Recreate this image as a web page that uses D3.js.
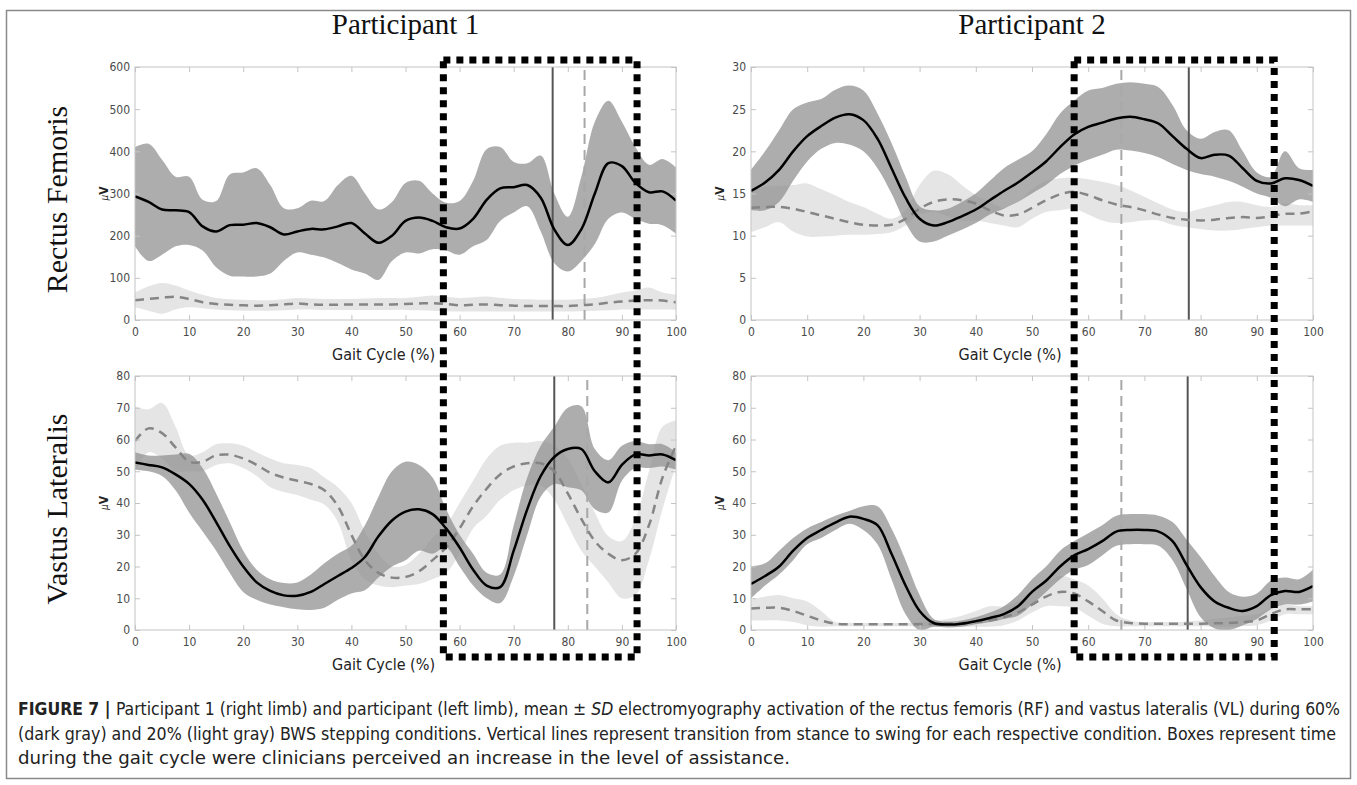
<!DOCTYPE html>
<html>
<head>
<meta charset="utf-8">
<script src="https://cdn.jsdelivr.net/npm/d3@7"></script>
<style>
  body { margin: 0; background: #fff; }
  .tick text { font-family: "Liberation Sans Narrow", "DejaVu Sans Condensed", "Liberation Sans", sans-serif; font-size: 12px; fill: #4a4a4a; }
  .tick line { stroke: #c4c4c4; }
  .serif { font-family: "Liberation Serif", "DejaVu Serif", serif; fill: #111; }
  .narrow { font-family: "Liberation Sans Narrow", "DejaVu Sans Condensed", "Liberation Sans", sans-serif; fill: #222; }
</style>
</head>
<body>
<div id="chart"></div>
<script>
// gait cycle sample points (%)
const gaitPct = [0,2.5,5,7.5,10,12.5,15,17.5,20,22.5,25,27.5,30,32.5,35,37.5,40,42.5,45,47.5,50,52.5,55,57.5,60,62.5,65,67.5,70,72.5,75,77.5,80,82.5,85,87.5,90,92.5,95,97.5,100];

// Rectus femoris, participant 1 (60% BWS = dark, 20% BWS = light)
const rfP1DarkMean  = [293,280,262,260,256,222,210,225,226,230,220,203,210,216,215,222,230,205,183,200,235,243,235,220,217,240,285,312,315,320,290,215,178,215,300,372,365,325,303,305,283];
const rfP1DarkUpper = [410,418,380,340,340,285,282,345,350,360,320,265,265,283,282,320,342,300,262,280,325,330,300,278,282,330,405,410,375,372,390,300,245,340,470,520,470,410,368,382,362];
const rfP1DarkLower = [175,140,155,175,178,165,125,105,103,103,110,140,160,155,148,135,120,110,95,140,160,158,168,165,155,175,190,235,255,270,210,135,115,140,180,240,255,240,228,225,205];
const rfP1LightMean  = [47,50,53,55,50,42,38,36,35,34,35,37,39,37,36,36,37,37,37,37,38,39,40,38,35,36,37,35,34,33,33,33,33,35,37,41,44,46,47,46,42];
const rfP1LightUpper = [65,80,88,82,70,60,52,49,48,47,47,49,52,51,50,50,50,51,52,52,52,55,58,55,52,54,56,53,50,49,48,48,48,50,52,58,65,70,77,65,60];
const rfP1LightLower = [30,22,15,25,30,28,25,23,22,22,22,23,25,25,24,24,24,24,24,24,24,23,22,21,20,20,20,20,20,20,20,20,20,21,22,23,25,25,25,25,24];

// Rectus femoris, participant 2
const rfP2DarkMean  = [15.3,16.3,17.8,20.0,21.8,23.0,24.0,24.4,23.7,21.5,18.0,14.5,12.0,11.2,11.6,12.3,13.1,14.2,15.3,16.3,17.5,18.8,20.5,22.0,22.9,23.4,23.9,24.1,23.8,23.3,21.8,20.3,19.2,19.6,19.5,18.0,16.5,16.2,16.8,16.6,15.9];
const rfP2DarkUpper = [17.8,20.0,22.5,25.0,25.8,26.2,27.3,27.8,27.2,24.5,21.0,17.0,13.5,13.0,13.2,14.0,15.0,16.5,18.0,19.0,20.0,22.0,24.5,26.0,27.2,27.5,28.0,28.2,28.0,27.6,25.5,22.5,21.5,22.3,22.5,20.0,17.5,17.0,20.0,18.0,17.8];
const rfP2DarkLower = [13.0,13.0,14.0,16.5,18.8,20.3,21.0,20.8,20.0,18.0,15.0,11.5,9.3,9.3,10.0,10.7,11.5,12.5,13.2,14.0,15.0,16.0,17.3,18.3,19.0,19.6,20.2,20.1,19.8,19.3,18.5,17.8,17.3,17.0,16.5,15.8,15.0,14.5,13.5,14.3,14.0];
const rfP2LightMean  = [13.3,13.4,13.4,13.2,12.8,12.4,12.0,11.6,11.3,11.2,11.3,12.0,13.2,14.0,14.3,14.2,13.8,13.0,12.4,12.5,13.3,14.2,14.9,15.2,14.8,14.2,13.7,13.4,13.0,12.5,12.1,11.9,11.8,11.9,12.1,12.2,12.1,12.3,12.6,12.6,12.9];
const rfP2LightUpper = [15.5,15.8,15.9,16.0,16.2,15.5,14.8,14.0,13.4,12.6,12.0,13.0,16.0,17.7,17.3,16.0,14.8,14.0,13.3,14.0,15.5,16.5,16.8,16.9,16.7,16.4,16.0,15.4,14.6,13.8,13.1,12.8,13.2,13.6,14.0,14.0,13.6,13.4,13.8,13.6,13.6];
const rfP2LightLower = [10.4,11.0,11.6,10.5,9.9,9.9,10.0,10.1,10.1,10.2,10.4,11.2,12.5,12.8,12.3,11.8,11.8,11.5,11.2,11.0,12.0,12.8,13.0,13.2,12.5,11.8,11.5,11.6,11.8,11.8,11.3,11.0,10.8,10.6,10.6,10.8,11.0,11.2,11.2,11.2,11.2];

// Vastus lateralis, participant 1
const vlP1DarkMean  = [52.8,52.0,51.2,49.0,46.0,41.0,34.0,26.5,20.0,15.0,12.3,10.9,10.8,12.0,14.5,17.0,19.5,23.0,29.5,34.5,37.3,38.0,36.5,32.0,26.0,19.0,14.0,13.5,25.0,38.0,48.5,54.5,57.0,57.0,50.0,46.5,52.0,55.3,55.0,55.3,53.5];
const vlP1DarkUpper = [56.0,55.0,55.0,55.3,55.5,51.0,43.0,34.0,25.0,19.0,16.0,14.8,15.0,17.5,21.0,24.0,26.5,33.0,42.0,50.0,53.0,52.0,48.0,38.0,30.0,24.0,18.0,17.5,33.0,48.0,58.0,64.0,70.0,70.5,57.0,53.5,58.0,59.5,58.5,58.5,56.0];
const vlP1DarkLower = [50.5,50.0,48.5,44.0,37.0,31.0,25.0,18.0,12.0,9.5,8.0,7.2,6.5,6.3,7.0,9.5,11.5,12.5,16.5,20.0,22.0,25.0,24.0,26.0,20.0,14.0,10.0,8.5,17.0,30.0,42.0,46.0,45.0,44.0,38.0,37.0,47.0,51.0,51.0,51.5,50.5];
const vlP1LightMean  = [59.5,63.5,62.0,57.5,53.0,53.0,55.0,55.2,54.0,52.0,49.5,48.0,47.0,46.0,44.0,39.0,30.0,22.0,18.0,16.5,16.7,18.5,22.0,26.0,32.0,39.0,44.5,49.0,51.5,52.5,52.5,50.0,43.0,35.0,28.0,24.0,22.0,24.0,33.0,48.0,58.0];
const vlP1LightUpper = [70.5,69.5,71.5,64.0,55.0,56.0,58.5,58.8,58.0,56.0,54.0,52.5,52.0,51.0,48.0,45.0,40.0,31.0,24.0,20.0,20.5,24.0,29.0,33.0,40.0,47.0,54.0,58.0,59.0,59.0,59.5,58.0,54.0,46.0,37.0,29.5,28.0,35.0,50.0,64.0,66.0];
const vlP1LightLower = [50.0,56.0,54.0,50.0,50.0,50.0,52.0,52.5,51.0,48.5,45.0,43.5,42.5,41.0,39.5,34.0,22.0,16.0,14.0,13.5,14.0,14.5,16.0,18.0,24.0,32.0,36.0,41.0,44.0,45.5,45.5,41.0,33.0,25.0,20.0,15.0,10.0,11.0,22.0,38.0,52.0];

// Vastus lateralis, participant 2
const vlP2DarkMean  = [14.5,17.0,20.0,25.0,29.0,31.5,33.8,35.7,35.0,33.0,24.0,14.0,6.0,2.2,1.7,2.0,2.8,3.8,5.0,7.5,12.0,15.5,20.0,23.5,25.5,28.0,31.0,31.5,31.5,31.0,28.0,20.5,13.5,9.0,7.0,6.0,7.5,11.0,12.3,12.0,13.8];
const vlP2DarkUpper = [20.0,21.0,25.0,29.0,32.0,34.0,36.0,37.5,39.0,39.0,32.0,22.0,11.0,3.5,2.7,3.0,4.0,5.5,7.5,11.0,16.0,20.0,25.0,28.0,30.5,33.0,36.0,36.5,36.5,36.0,34.0,28.5,23.0,17.0,12.0,10.5,11.5,15.5,16.5,16.0,19.0];
const vlP2DarkLower = [10.0,14.0,17.5,22.0,27.0,29.0,31.5,33.5,31.5,27.0,16.0,5.0,0.0,1.0,0.8,1.0,1.8,2.5,3.5,4.5,8.0,12.0,16.0,19.0,20.5,23.5,26.5,27.0,27.0,26.5,22.0,13.0,4.0,0.5,0.0,1.5,3.5,6.5,8.0,8.0,9.0];
const vlP2LightMean  = [6.8,7.0,7.0,6.0,4.5,3.0,2.0,1.8,1.8,1.8,1.8,1.8,1.8,1.9,2.0,2.2,2.5,3.0,4.0,5.5,8.0,10.5,12.0,11.5,9.0,6.0,3.0,2.2,2.0,2.0,2.0,2.0,2.0,2.1,2.2,2.5,3.0,5.0,6.5,6.5,6.5];
const vlP2LightUpper = [9.5,10.5,11.0,10.0,9.0,6.0,2.5,2.3,2.2,2.2,2.2,2.3,2.5,3.0,3.5,4.5,6.0,7.5,7.5,9.0,12.0,15.0,17.0,16.0,14.0,10.0,5.0,3.0,2.5,2.5,2.5,2.7,3.0,3.5,4.0,4.5,5.0,7.0,8.0,7.5,7.5];
const vlP2LightLower = [3.0,3.0,3.0,2.5,1.5,1.0,1.2,1.2,1.2,1.2,1.2,1.2,1.2,1.1,1.0,1.0,1.0,1.0,1.5,3.0,5.5,7.5,7.5,7.0,4.5,2.0,1.2,1.2,1.2,1.2,1.2,1.2,1.2,1.1,1.0,1.2,1.5,3.0,5.0,5.0,5.0];

// stance-to-swing transitions (% gait), panels in order RF P1, RF P2, VL P1, VL P2
const swingDark  = [77.2, 77.9, 77.5, 77.7];
const swingLight = [83.1, 65.9, 83.6, 65.9];

// boxes: perceived increase in assistance (% gait), per participant
const assistBox = [[57.0, 92.8], [57.5, 93.1]];

const xTicks = [0,10,20,30,40,50,60,70,80,90,100];
const yTicksRF1 = [0,100,200,300,400,500,600];
const yTicksRF2 = [0,5,10,15,20,25,30];
const yTicksVL  = [0,10,20,30,40,50,60,70,80];

const participants = ["Participant 1", "Participant 2"];
const muscles = ["Rectus Femoris", "Vastus Lateralis"];
const captionLines = [
  ["FIGURE 7 | ", "Participant 1 (right limb) and participant (left limb), mean ± ", "SD", " electromyography activation of the rectus femoris (RF) and vastus lateralis (VL) during 60%"],
  ["", "(dark gray) and 20% (light gray) BWS stepping conditions. Vertical lines represent transition from stance to swing for each respective condition. Boxes represent time", "", ""],
  ["", "during the gait cycle were clinicians perceived an increase in the level of assistance.", "", ""]
];

// layout
const W = 1357, H = 785;
const colX0 = [135, 751], colX1 = [676, 1313];
const rowTop = [67, 376], rowBottom = [320, 630];

const svg = d3.select("#chart").append("svg")
  .attr("width", W).attr("height", H);

svg.append("rect")
  .attr("x", 6.5).attr("y", 10.5)
  .attr("width", 1344).attr("height", 768)
  .attr("fill", "none").attr("stroke", "#8a8a8a").attr("stroke-width", 1.5);

const panels = [
  { col: 0, row: 0, yMax: 600, yTicks: yTicksRF1, dark: [rfP1DarkMean, rfP1DarkUpper, rfP1DarkLower], light: [rfP1LightMean, rfP1LightUpper, rfP1LightLower] },
  { col: 1, row: 0, yMax: 30,  yTicks: yTicksRF2, dark: [rfP2DarkMean, rfP2DarkUpper, rfP2DarkLower], light: [rfP2LightMean, rfP2LightUpper, rfP2LightLower] },
  { col: 0, row: 1, yMax: 80,  yTicks: yTicksVL,  dark: [vlP1DarkMean, vlP1DarkUpper, vlP1DarkLower], light: [vlP1LightMean, vlP1LightUpper, vlP1LightLower] },
  { col: 1, row: 1, yMax: 80,  yTicks: yTicksVL,  dark: [vlP2DarkMean, vlP2DarkUpper, vlP2DarkLower], light: [vlP2LightMean, vlP2LightUpper, vlP2LightLower] }
];

const curve = d3.curveCatmullRom.alpha(0.5);
const xScales = [];

panels.forEach((p, i) => {
  const x = d3.scaleLinear().domain([0, 100]).range([colX0[p.col], colX1[p.col]]);
  const y = d3.scaleLinear().domain([0, p.yMax]).range([rowBottom[p.row], rowTop[p.row]]);
  if (p.row === 0) xScales[p.col] = x;

  const g = svg.append("g");
  const clipId = "clip" + i;
  svg.append("clipPath").attr("id", clipId).append("rect")
    .attr("x", x(0)).attr("y", y(p.yMax))
    .attr("width", x(100) - x(0)).attr("height", y(0) - y(p.yMax));

  const band = (mean, upper, lower) => gaitPct.map((d, j) => ({ x: d, m: mean[j], hi: upper[j], lo: lower[j] }));
  const light = band(...p.light);
  const dark = band(...p.dark);

  const area = d3.area().x(d => x(d.x)).y0(d => y(d.lo)).y1(d => y(d.hi)).curve(curve);
  const line = d3.line().x(d => x(d.x)).y(d => y(d.m)).curve(curve);

  const plot = g.append("g").attr("clip-path", `url(#${clipId})`);
  plot.append("path").datum(light).attr("d", area)
    .attr("fill", "#dcdcdc").attr("fill-opacity", 0.75);
  plot.append("path").datum(dark).attr("d", area)
    .attr("fill", "#8e8e8e").attr("fill-opacity", 0.72);

  // stance to swing transitions
  plot.append("line")
    .attr("x1", x(swingDark[i])).attr("x2", x(swingDark[i]))
    .attr("y1", y(0)).attr("y2", y(p.yMax))
    .attr("stroke", "#555").attr("stroke-width", 2);
  plot.append("line")
    .attr("x1", x(swingLight[i])).attr("x2", x(swingLight[i]))
    .attr("y1", y(0)).attr("y2", y(p.yMax))
    .attr("stroke", "#a8a8a8").attr("stroke-width", 2)
    .attr("stroke-dasharray", "10 6");

  plot.append("path").datum(light).attr("d", line)
    .attr("fill", "none").attr("stroke", "#858585").attr("stroke-width", 2.5)
    .attr("stroke-dasharray", "9 6");
  plot.append("path").datum(dark).attr("d", line)
    .attr("fill", "none").attr("stroke", "#000").attr("stroke-width", 2.5);

  // axes, matlab style box with inward ticks
  const bottom = g.append("g").attr("transform", `translate(0,${y(0)})`)
    .call(d3.axisBottom(x).tickValues(xTicks).tickSizeInner(-5).tickSizeOuter(0).tickPadding(7));
  const left = g.append("g").attr("transform", `translate(${x(0)},0)`)
    .call(d3.axisLeft(y).tickValues(p.yTicks).tickSizeInner(-5).tickSizeOuter(0).tickPadding(5));
  const top = g.append("g").attr("transform", `translate(0,${y(p.yMax)})`)
    .call(d3.axisTop(x).tickValues(xTicks).tickSizeInner(-5).tickSizeOuter(0).tickFormat(""));
  const right = g.append("g").attr("transform", `translate(${x(100)},0)`)
    .call(d3.axisRight(y).tickValues(p.yTicks).tickSizeInner(-5).tickSizeOuter(0).tickFormat(""));
  [bottom, left, top, right].forEach(a => a.select(".domain").remove());

  g.append("rect")
    .attr("x", x(0)).attr("y", y(p.yMax))
    .attr("width", x(100) - x(0)).attr("height", y(0) - y(p.yMax))
    .attr("fill", "none").attr("stroke", "#c4c4c4").attr("stroke-width", 1);

  // y label
  const yl = g.append("text")
    .attr("class", "narrow")
    .attr("transform", `translate(${x(0) - 27},${(y(0) + y(p.yMax)) / 2}) rotate(-90)`)
    .attr("text-anchor", "middle")
    .style("font-size", "12px").style("font-weight", "bold");
  yl.append("tspan").text("μ").style("font-style", "italic").style("font-weight", "normal").style("font-size", "10px");
  yl.append("tspan").text("V");

  // x label
  g.append("text")
    .attr("class", "narrow")
    .attr("x", (x(0) + x(100)) / 2 - 22)
    .attr("y", y(0) + 40)
    .attr("text-anchor", "middle")
    .style("font-size", "16px")
    .text("Gait Cycle (%)");
});

// participant titles
participants.forEach((t, c) => {
  svg.append("text").attr("class", "serif")
    .attr("x", (colX0[c] + colX1[c]) / 2)
    .attr("y", 34)
    .attr("text-anchor", "middle")
    .style("font-size", "29px")
    .text(t);
});

// muscle labels
muscles.forEach((t, r) => {
  svg.append("text").attr("class", "serif")
    .attr("transform", `translate(67,${(rowTop[r] + rowBottom[r]) / 2 + 6}) rotate(-90)`)
    .attr("text-anchor", "middle")
    .style("font-size", "30px")
    .text(t);
});

// dotted boxes for perceived increase in assistance
assistBox.forEach((b, c) => {
  const x = xScales[c];
  svg.append("rect")
    .attr("x", x(b[0])).attr("y", 60)
    .attr("width", x(b[1]) - x(b[0])).attr("height", 597)
    .attr("fill", "none").attr("stroke", "#000")
    .attr("stroke-width", 7).attr("stroke-dasharray", "7 6");
});

// caption
const captionWidths = [1322, 1318, 772];
captionLines.forEach((parts, k) => {
  const t = svg.append("text").attr("class", "narrow")
    .attr("x", 18).attr("y", 715 + k * 24.5)
    .style("font-size", "17px");
  t.append("tspan").text(parts[0]).style("font-weight", "bold");
  t.append("tspan").text(parts[1]);
  t.append("tspan").text(parts[2]).style("font-style", "italic");
  t.append("tspan").text(parts[3]);
  t.attr("textLength", captionWidths[k]).attr("lengthAdjust", "spacingAndGlyphs");
});
</script>
</body>
</html>
